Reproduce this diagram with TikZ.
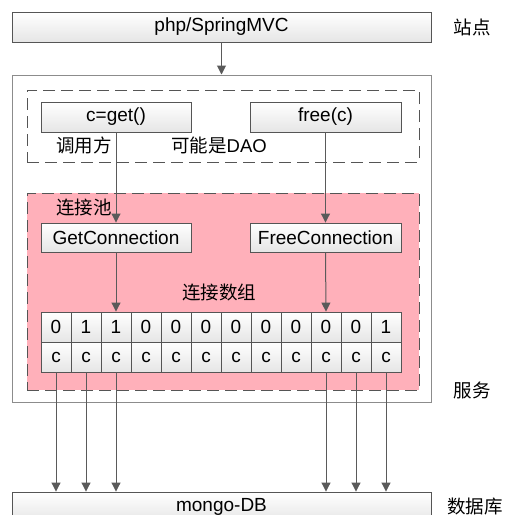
\documentclass[tikz,border=0pt]{standalone}
\usepackage{fontspec}
\setmainfont{Liberation Sans}
\newfontfamily\cjk{Noto Sans CJK SC}
\usetikzlibrary{arrows.meta}
\definecolor{edge}{RGB}{85,85,85}
\definecolor{wire}{RGB}{90,90,90}
\definecolor{poolpink}{RGB}{255,176,186}
\tikzset{
  graybox/.style={draw=edge, line width=0.9pt, top color=white, bottom color=black!10, minimum height=30pt, inner sep=0pt, font=\fontsize{19}{21}\selectfont},
  cellbox/.style={graybox, minimum width=30pt},
  dashbox/.style={draw=edge, line width=1pt, dash pattern=on 12pt off 6pt},
  lbl/.style={font=\cjk\fontsize{18.5}{20}\selectfont, inner sep=0pt},
  link/.style={draw=wire, line width=1pt, -{Triangle[length=9pt,width=9pt]}}
}
\begin{document}
\begin{tikzpicture}[x=1pt,y=-1pt]
\clip (0,0) rectangle (515,515);
\fill[white] (0,0) rectangle (515,515);
\node[graybox, minimum width=419pt] (site) at (221.5,27) {php/SpringMVC};
\node[draw=black!45, line width=1pt, minimum width=419pt, minimum height=327pt] (service) at (221.5,238.5) {};
\node[dashbox, minimum width=392pt, minimum height=72pt] (caller) at (223,126) {};
\node[dashbox, fill=poolpink, minimum width=392pt, minimum height=197pt] (pool) at (223,291.5) {};
\node[graybox, minimum width=150pt] (get) at (116,117) {c=get()};
\node[graybox, minimum width=151pt] (free) at (325.5,117) {free(c)};
\node[graybox, minimum width=150pt, minimum height=29pt] (getconn) at (116,237.5) {GetConnection};
\node[graybox, minimum width=151pt, minimum height=29pt] (freeconn) at (325.5,237.5) {FreeConnection};
\node[graybox, minimum width=419pt] (mongo) at (221.5,507) {mongo-DB};
% labels
\node[lbl] (sitelbl) at (472,27) {站点};
\node[lbl] (servicelbl) at (472,390) {服务};
\node[lbl] (dblbl) at (475,507) {数据库};
\node[lbl] (callerlbl) at (84,145) {调用方};
\node[lbl] (daolbl) at (219,145) {可能是\fontspec{Liberation Sans}DAO};
\node[lbl] (poollbl) at (84,207) {连接池};
\node[lbl] (arraylbl) at (219,292) {连接数组};
% connection array
\foreach \v [count=\i from 0] in {0,1,1,0,0,0,0,0,0,0,0,1} {
  \node[cellbox] (t\i) at (56+30*\i,327) {\v};
  \node[cellbox] (b\i) at (56+30*\i,357) {c};
}
% connectors
\draw[link] (site) -- (service.north);
\draw[link] (get.south) -- (getconn.north);
\draw[link] (free.south) -- (freeconn.north);
\draw[link] (getconn.south) -- (t2.north);
\draw[link] (freeconn.south) -- (t9.north);
\foreach \i in {0,1,2,9,10,11}
  \draw[link] (b\i.south) -- (b\i.south |- mongo.north);
\end{tikzpicture}
\end{document}
